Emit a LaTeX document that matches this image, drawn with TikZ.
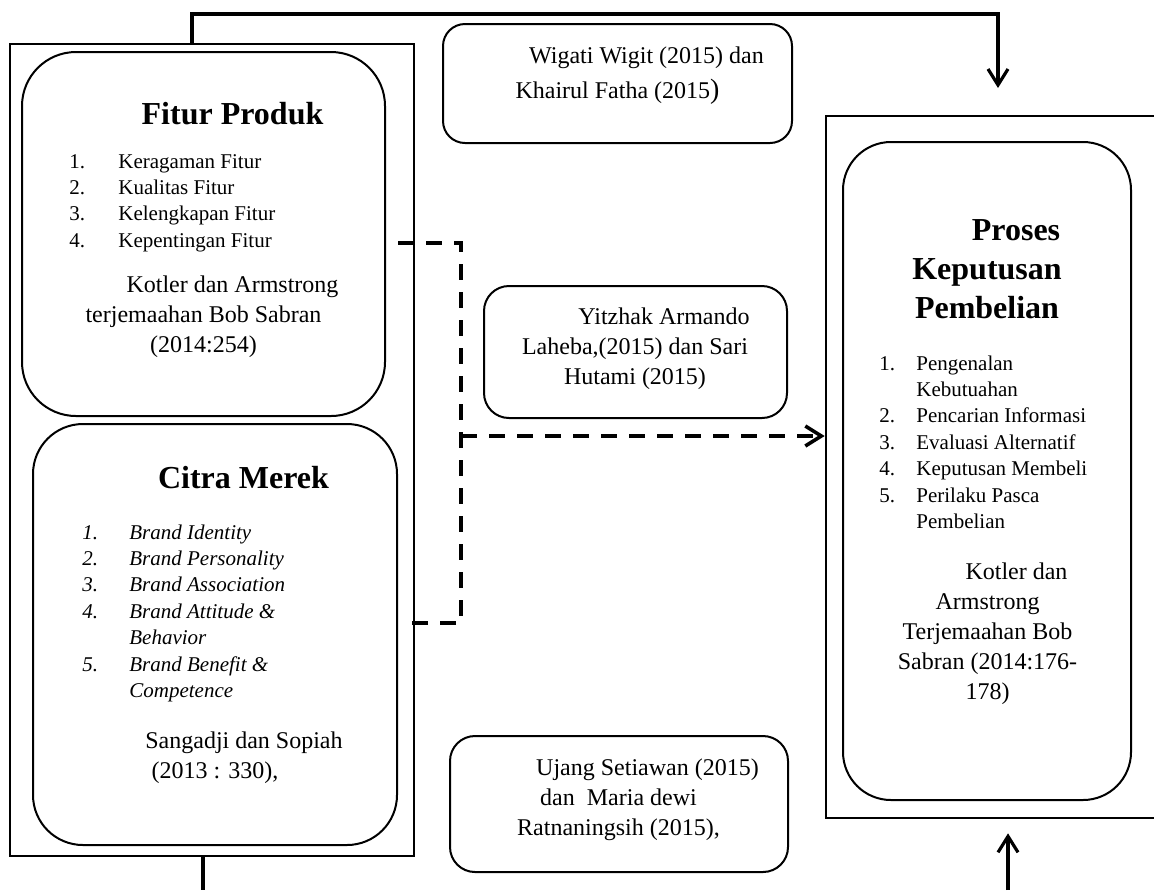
\documentclass[tikz,border=0pt]{standalone}
\usepackage{fontspec}
\setmainfont{Liberation Serif}
\usetikzlibrary{positioning, fit, arrows.meta}

\newcommand{\refindent}{\hspace*{29pt}}
\newcommand{\itemno}[2]{\makebox[#1][l]{#2}}
\newcommand{\textrows}[2][c]{\begin{tabular}[t]{@{}#1@{}}#2\end{tabular}}

\begin{document}
\begin{tikzpicture}[
    x=0.5pt, y=-0.5pt,
    >={Straight Barb[length=8pt, width=10pt]},
    % Styles
    outerbox/.style={rectangle, draw, line width=1.3pt, inner sep=0pt},
    varbox/.style={rectangle, draw, line width=1pt, rounded corners=#1, inner sep=0pt},
    varbox/.default=25pt,
    citebox/.style={rectangle, draw, line width=1pt, rounded corners=#1, inner sep=0pt},
    citebox/.default=12pt,
    titletext/.style={anchor=base, inner sep=0pt, font=\fontsize{16}{19.5}\selectfont\bfseries},
    itemtext/.style={anchor=base west, inner sep=0pt, font=\fontsize{10.5}{13.2}\selectfont},
    srctext/.style={anchor=base, inner sep=0pt, font=\fontsize{12}{15}\selectfont},
    conn/.style={line width=1.6pt},
    dashlink/.style={line width=1.8pt, dash pattern=on 8pt off 6pt}
  ]
  \useasboundingbox (0,0) rectangle (1154,890);
  % 1. Left frame: Fitur Produk and Citra Merek
  \node[outerbox, fit={(10,44) (414,856)}] (leftFrame) {};
  \node[varbox=27pt, fit={(22,52) (385,416)}] (fitur) {};
  \node[titletext] (fiturT) at (232.5,124) {Fitur Produk};
  \node[itemtext] (fiturL) at (69,168) {\textrows[l]{\itemno{24.5pt}{1.}Keragaman Fitur\\
    \itemno{24.5pt}{2.}Kualitas Fitur\\
    \itemno{24.5pt}{3.}Kelengkapan Fitur\\
    \itemno{24.5pt}{4.}Kepentingan Fitur}};
  \node[srctext] (fiturS) at (203.5,292) {\textrows{\refindent Kotler dan Armstrong\\terjemaahan Bob Sabran\\(2014:254)}};
  \node[varbox=25pt, fit={(33,424) (397,845)}] (citra) {};
  \node[titletext] (citraT) at (243.5,488) {Citra Merek};
  \node[itemtext, font=\fontsize{10.5}{13.2}\selectfont\itshape] (citraL) at (82,539) {\textrows[l]{\itemno{23.5pt}{1.}Brand Identity\\
    \itemno{23.5pt}{2.}Brand Personality\\
    \itemno{23.5pt}{3.}Brand Association\\
    \itemno{23.5pt}{4.}Brand Attitude \&\\
    \itemno{23.5pt}{}Behavior\\
    \itemno{23.5pt}{5.}Brand Benefit \&\\
    \itemno{23.5pt}{}Competence}};
  \node[srctext] (citraS) at (215,748) {\textrows{\refindent Sangadji dan Sopiah\\(2013 : 330),}};
  % 2. Previous studies in the middle
  \node[citebox=11pt, fit={(443,24) (792,143)}] (wigati) {};
  \node[srctext] (wigatiT) at (617.5,63) {\textrows{\refindent Wigati Wigit (2015) dan\\[2.5pt]Khairul Fatha (2015{\fontsize{14}{14}\selectfont)}}};
  \node[citebox=12.5pt, fit={(484,286) (787,418)}] (yitzhak) {};
  \node[srctext] (yitzhakT) at (635,324) {\textrows{\refindent Yitzhak Armando\\Laheba,(2015) dan Sari\\Hutami (2015)}};
  \node[citebox=12.5pt, fit={(450,736) (788,872)}] (ujang) {};
  \node[srctext] (ujangT) at (618.5,775) {\textrows{\refindent Ujang Setiawan (2015)\\dan\ \ Maria dewi\\Ratnaningsih (2015),}};
  % 3. Right frame: Proses Keputusan Pembelian
  \node[outerbox, fit={(826,116) (1162,818)}] (rightFrame) {};
  \node[varbox=24pt, fit={(843,142) (1131,800)}] (proses) {};
  \node[titletext] (prosesT) at (987,240) {\textrows{\refindent Proses\\Keputusan\\Pembelian}};
  \node[itemtext] (prosesL) at (879,370) {\textrows[l]{\itemno{18.5pt}{1.}Pengenalan\\
    \itemno{18.5pt}{}Kebutuahan\\
    \itemno{18.5pt}{2.}Pencarian Informasi\\
    \itemno{18.5pt}{3.}Evaluasi Alternatif\\
    \itemno{18.5pt}{4.}Keputusan Membeli\\
    \itemno{18.5pt}{5.}Perilaku Pasca\\
    \itemno{18.5pt}{}Pembelian}};
  \node[srctext] (prosesS) at (987.5,579) {\textrows{\refindent Kotler dan\\Armstrong\\Terjemaahan Bob\\Sabran (2014:176-\\178)}};
  % --- Connections ---
  \coordinate (topL) at (192,14);
  \coordinate (topR) at (998,88);
  \draw[conn, ->] (leftFrame.north -| topL) -- (topL) -| (topR);
  \coordinate (botL) at (203,890);
  \draw[conn] (leftFrame.south -| botL) -- (botL);
  \coordinate (botR) at (1008,890);
  \draw[conn, ->] (botR) -- ([yshift=-7pt]rightFrame.south -| botR);
  % dashed links from both variables
  \coordinate (dTop) at (461,243);
  \coordinate (dBot) at (461,623);
  \coordinate (dMid) at (461,436);
  \draw[dashlink] ([xshift=6pt]fitur.east |- dTop) -- (dTop) -- (dBot) -- ([xshift=5.5pt]citra.east |- dBot);
  \draw[dashlink, ->] (dMid) -- (rightFrame.west |- dMid);
\end{tikzpicture}
\end{document}
